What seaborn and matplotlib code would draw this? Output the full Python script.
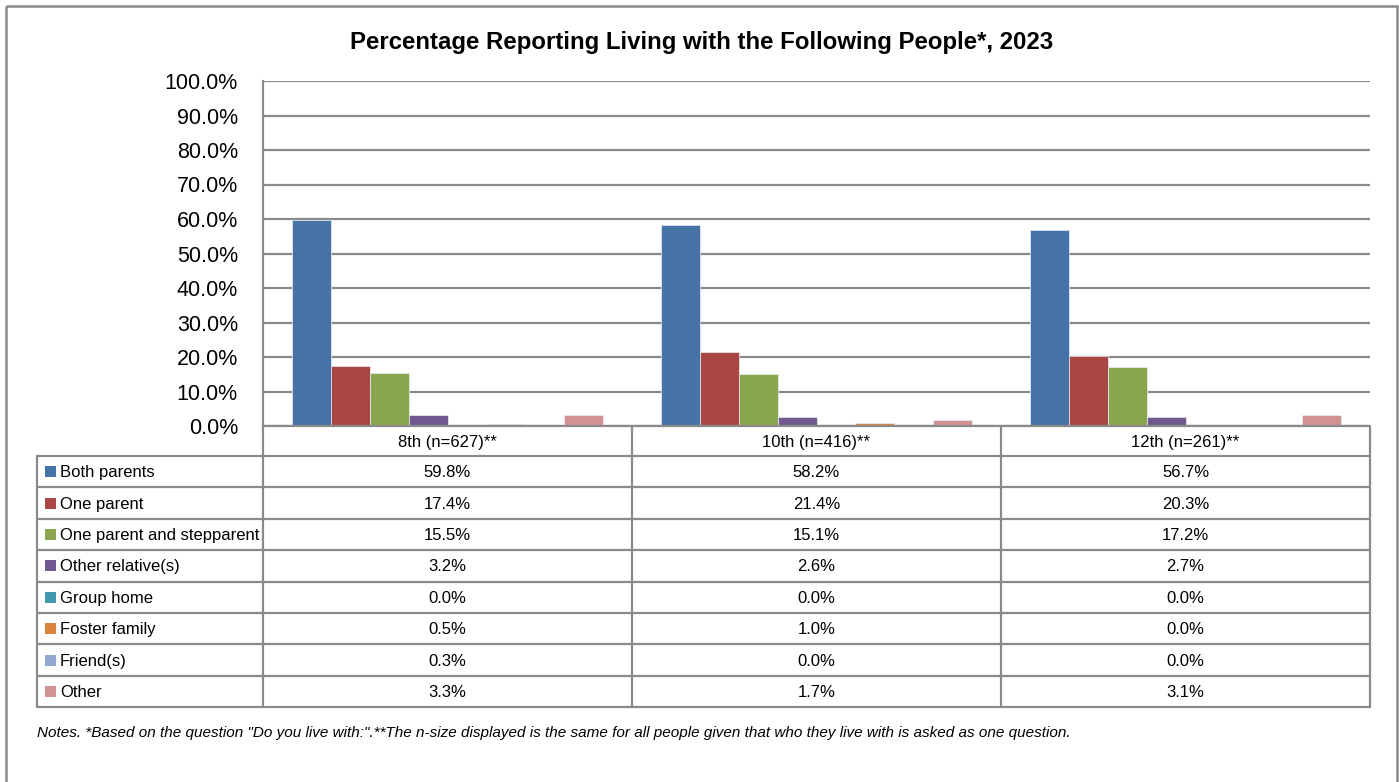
import pandas as pd
import numpy as np
import seaborn as sns
import matplotlib.pyplot as plt
from matplotlib.patches import Rectangle

# data
grades = ['8th (n=627)**', '10th (n=416)**', '12th (n=261)**']
groups = ['Both parents', 'One parent', 'One parent and stepparent', 'Other relative(s)',
          'Group home', 'Foster family', 'Friend(s)', 'Other']
both_parents = [59.8, 58.2, 56.7]
one_parent = [17.4, 21.4, 20.3]
stepparent = [15.5, 15.1, 17.2]
other_relative = [3.2, 2.6, 2.7]
group_home = [0.0, 0.0, 0.0]
foster_family = [0.5, 1.0, 0.0]
friends = [0.3, 0.0, 0.0]
other = [3.3, 1.7, 3.1]
colors = ['#4572A7', '#AA4643', '#89A54E', '#71588F', '#4198AF', '#DB843D', '#93A9CF', '#D19392']

series = [both_parents, one_parent, stepparent, other_relative,
          group_home, foster_family, friends, other]
rows = []
for g, vals in zip(groups, series):
    for gr, v in zip(grades, vals):
        rows.append({'grade': gr, 'group': g, 'pct': v})
df = pd.DataFrame(rows)

sns.set_style('white')
plt.rcParams['font.family'] = ['Liberation Sans', 'DejaVu Sans']
plt.rcParams['text.color'] = 'black'
plt.rcParams['ytick.color'] = 'black'

W, H = 1399, 782
fig = plt.figure(figsize=(W / 100, H / 100), dpi=100)

# plot area in pixels
L, R, T, B = 263, 1370, 81, 426
ax = fig.add_axes([L / W, 1 - B / H, (R - L) / W, (B - T) / H])
sns.barplot(data=df, x='grade', y='pct', hue='group', hue_order=groups, palette=colors,
            width=0.845, saturation=1, edgecolor='#e8eef6', linewidth=0.5, ax=ax, legend=False)
ax.set_xlim(-0.5, 2.5)
ax.set_ylim(0, 100)
ax.set_yticks(np.arange(0, 101, 10))
ax.set_yticklabels([f'{v:.1f}%' for v in np.arange(0, 101, 10)], fontsize=15.5)
ax.tick_params(axis='y', length=0, pad=18)
ax.set_xticks([])
ax.set_xlabel('')
ax.set_ylabel('')
ax.yaxis.grid(True, color='#8a8a8a', linewidth=1.6)
ax.set_axisbelow(True)
for s in ['top', 'right', 'bottom']:
    ax.spines[s].set_visible(False)
ax.spines['left'].set_color('#8a8a8a')
ax.spines['left'].set_linewidth(1.6)

# overlay axes in pixel coords for table, border, title, notes
tax = fig.add_axes([0, 0, 1, 1])
tax.set_xlim(0, W)
tax.set_ylim(H, 0)
tax.axis('off')

# outer frame runs off the bottom edge like the original
tax.add_patch(Rectangle((6, 6), 1391, 800, fill=False, edgecolor='#8a8a8a', linewidth=1.8,
                        clip_on=False))
tax.text(702, 43, 'Percentage Reporting Living with the Following People*, 2023',
         ha='center', va='center', fontsize=17.3, fontweight='bold')

lc = '#8a8a8a'
lw = 1.6
TL = 37
col_x = [L, 632, 1001, R]
row_h = 31.4
header_top = B
body_top = 456
body_bot = body_top + row_h * len(groups)
fs = 12

# header row
tax.plot([L, R], [header_top, header_top], color=lc, lw=lw)
for x in col_x:
    tax.plot([x, x], [header_top, body_bot], color=lc, lw=lw)
for i, gr in enumerate(grades):
    tax.text((col_x[i] + col_x[i + 1]) / 2, (header_top + body_top) / 2 + 1, gr,
             ha='center', va='center', fontsize=fs)

# body rows
tax.plot([TL, TL], [body_top, body_bot], color=lc, lw=lw)
for k in range(len(groups) + 1):
    y = body_top + k * row_h
    tax.plot([TL, R], [y, y], color=lc, lw=lw)
for k, (g, vals) in enumerate(zip(groups, series)):
    yc = body_top + (k + 0.5) * row_h
    tax.add_patch(Rectangle((45, yc - 5.5), 11, 11, color=colors[k], lw=0))
    tax.text(60, yc + 1, g, ha='left', va='center', fontsize=fs)
    for i, v in enumerate(vals):
        tax.text((col_x[i] + col_x[i + 1]) / 2, yc + 1, f'{v:.1f}%',
                 ha='center', va='center', fontsize=fs)

tax.text(37, 733, 'Notes. *Based on the question "Do you live with:".**The n-size displayed is the same '
         'for all people given that who they live with is asked as one question.',
         ha='left', va='center', fontsize=11, style='italic')

fig.savefig('out.png', dpi=100)
